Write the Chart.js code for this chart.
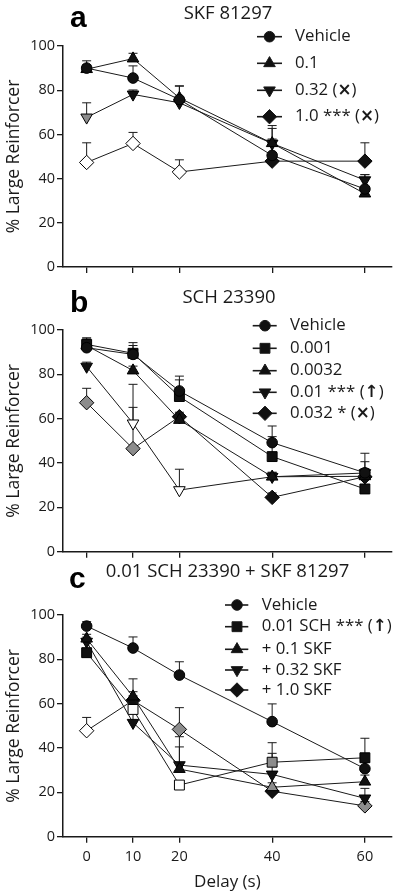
<!DOCTYPE html>
<html><head><meta charset="utf-8">
<script src="https://cdn.jsdelivr.net/npm/chart.js@4.4.1/dist/chart.umd.min.js"></script>
<style>
html,body{margin:0;padding:0;background:#fff;}
body{width:400px;height:894px;position:relative;overflow:hidden;}
canvas{position:absolute;left:0;}
</style></head><body>
<canvas id="ca" style="top:0px" width="400" height="283"></canvas>
<canvas id="cb" style="top:283px" width="400" height="280"></canvas>
<canvas id="cc" style="top:563px" width="400" height="331"></canvas>
<script>
// ---------- data ----------
const delays = [0, 10, 20, 40, 60];
const xTicks = [0, 10, 20, 40, 60];
const yTicks = [0, 20, 40, 60, 80, 100];

// significance codes per point: 'n' = filled black, 's' = open (white), 't' = grey
// Panel a: SKF 81297
const aTitle = 'SKF 81297';
const aLabels = ['Vehicle', '0.1', '0.32 (×)', '1.0 *** (×)'];
const aVehicle = [90, 85.5, 75.8, 50.5, 35.3];
const aVehicleSem = [3.3, 5.5, 6, 13.5, 6.5];
const aVehicleSig = ['n','n','n','n','n'];
const aSkf01 = [89.5, 94.3, 76.5, 56, 33.2];
const aSkf01Sem = [2, 2.4, 5.5, 6.7, 3];
const aSkf01Sig = ['n','n','n','n','n'];
const aSkf032 = [67.7, 78.1, 74.3, 55.9, 39.3];
const aSkf032Sem = [6.6, 2, 2, 2, 2.5];
const aSkf032Sig = ['t','n','n','n','n'];
const aSkf10 = [47.3, 55.9, 43, 47.9, 47.9];
const aSkf10Sem = [8.9, 5, 5.5, 2, 8.3];
const aSkf10Sig = ['s','s','s','n','n'];

// Panel b: SCH 23390
const bTitle = 'SCH 23390';
const bLabels = ['Vehicle', '0.001', '0.0032', '0.01 *** (↑)', '0.032 * (×)'];
const bVehicle = [92, 89, 72.5, 49.2, 35.6];
const bVehicleSem = [4, 5.3, 6.7, 7.5, 8.8];
const bVehicleSig = ['n','n','n','n','n'];
const bSch0001 = [93.5, 89.5, 70, 42.9, 28.3];
const bSch0001Sem = [3, 3.5, 7.5, 9, 2];
const bSch0001Sig = ['n','n','n','n','n'];
const bSch00032 = [93, 81.7, 59.4, 33.8, 34];
const bSch00032Sem = [2, 2, 2, 2, 6.6];
const bSch00032Sig = ['n','n','n','n','n'];
const bSch001 = [83.5, 57.9, 27.8, 33.8, 35.5];
const bSch001Sem = [2, 17.6, 9.4, 2, 2];
const bSch001Sig = ['n','s','s','n','n'];
const bSch0032 = [67.2, 46.5, 60.9, 24.5, 33.8];
const bSch0032Sem = [6.5, 18.6, 2, 2, 2];
const bSch0032Sig = ['t','t','n','n','n'];

// Panel c: 0.01 SCH 23390 + SKF 81297
const cTitle = '0.01 SCH 23390 + SKF 81297';
const cLabels = ['Vehicle', '0.01 SCH *** (↑)', '+ 0.1 SKF', '+ 0.32 SKF', '+ 1.0 SKF'];
const cVehicle = [95, 85.1, 72.9, 51.9, 30.7];
const cVehicleSem = [2, 5, 6, 8, 3];
const cVehicleSig = ['n','n','n','n','n'];
const cSch = [83, 57.4, 23.3, 33.6, 35.6];
const cSchSem = [2, 5, 2, 8.8, 8.8];
const cSchSig = ['n','s','s','t','n'];
const cSkf01 = [89.3, 63.2, 30.5, 22.3, 24.8];
const cSkf01Sem = [2, 8, 10, 2, 3];
const cSkf01Sig = ['n','n','n','t','n'];
const cSkf032 = [88, 51.4, 32.3, 28.1, 17.3];
const cSkf032Sem = [2, 14, 12.8, 9.5, 4.5];
const cSkf032Sig = ['n','n','n','n','n'];
const cSkf10 = [47.8, 61.5, 48.4, 20.5, 13.9];
const cSkf10Sem = [6, 2, 9.8, 2, 2];
const cSkf10Sig = ['s','n','t','n','t'];

// ---------- styles ----------
const FONT = "'Open Sans', 'DejaVu Sans', sans-serif";
const INK = '#1a1a1a';
const FILL = { n: '#111111', s: '#ffffff', t: '#8c8c8c' };
const SHAPES = {
  circle:  { pointStyle: 'circle',   rot: 0,   r: 5.3 },
  square:  { pointStyle: 'rect',     rot: 0,   r: 7 },
  tri:     { pointStyle: 'triangle', rot: 0,   r: 6.7 },
  invtri:  { pointStyle: 'triangle', rot: 180, r: 6.7 },
  diamond: { pointStyle: 'rectRot',  rot: 0,   r: 7.2 }
};

function markerPath(ctx, shape, x, y) {
  const s = SHAPES[shape], r = s.r;
  ctx.beginPath();
  if (s.pointStyle === 'circle') ctx.arc(x, y, r, 0, Math.PI * 2);
  else if (s.pointStyle === 'rect') { const h = r * Math.SQRT1_2; ctx.rect(x - h, y - h, 2 * h, 2 * h); }
  else if (s.pointStyle === 'rectRot') { ctx.moveTo(x - r, y); ctx.lineTo(x, y - r); ctx.lineTo(x + r, y); ctx.lineTo(x, y + r); ctx.closePath(); }
  else {
    const k = s.rot === 180 ? -1 : 1;
    ctx.moveTo(x, y - k * r);
    ctx.lineTo(x + 0.866 * r, y + k * 0.5 * r);
    ctx.lineTo(x - 0.866 * r, y + k * 0.5 * r);
    ctx.closePath();
  }
}

// error bars (upward SEM with cap)
const errorBars = {
  id: 'errorBars',
  beforeDatasetsDraw(chart) {
    const ctx = chart.ctx, ys = chart.scales.y;
    ctx.save();
    ctx.strokeStyle = INK; ctx.lineWidth = 1;
    chart.data.datasets.forEach((ds, di) => {
      const meta = chart.getDatasetMeta(di);
      meta.data.forEach((pt, i) => {
        const top = ys.getPixelForValue(ds.data[i].y + ds.sem[i]);
        ctx.beginPath();
        ctx.moveTo(pt.x, pt.y); ctx.lineTo(pt.x, top);
        ctx.moveTo(pt.x - 4.5, top); ctx.lineTo(pt.x + 4.5, top);
        ctx.stroke();
      });
    });
    ctx.restore();
  }
};

function drawRich(ctx, text, x, y, size) {
  // bold for symbol characters
  let cx = x;
  for (const ch of text) {
    const sym = (ch === '×' || ch === '↑');
    ctx.font = sym ? ('bold ' + size + "px 'DejaVu Sans', sans-serif") : (size + 'px ' + FONT);
    ctx.fillText(ch, cx, y);
    cx += ctx.measureText(ch).width;
  }
}

const panelText = {
  id: 'panelText',
  afterDraw(chart, args, o) {
    const ctx = chart.ctx;
    ctx.save();
    ctx.fillStyle = '#000';
    ctx.textBaseline = 'alphabetic';
    ctx.textAlign = 'left';
    ctx.font = "bold 30px 'Liberation Sans', Arial, sans-serif";
    ctx.fillText(o.letter, o.letterX, o.letterY);
    ctx.font = '18.5px ' + FONT;
    ctx.textAlign = 'center';
    ctx.fillStyle = INK;
    ctx.fillText(o.title, o.titleX, o.titleY);
    // legend
    ctx.textAlign = 'left';
    ctx.textBaseline = 'middle';
    const L = o.legend;
    chart.data.datasets.forEach((ds, i) => {
      const y = L.rows[i];
      ctx.strokeStyle = INK; ctx.lineWidth = 1.6;
      ctx.beginPath(); ctx.moveTo(L.x0, y); ctx.lineTo(L.x1, y); ctx.stroke();
      markerPath(ctx, ds.shape, L.mx, y);
      ctx.fillStyle = '#111'; ctx.fill();
      ctx.lineWidth = 1; ctx.stroke();
      ctx.fillStyle = INK;
      drawRich(ctx, ds.label, L.tx, y, 16.8);
    });
    ctx.restore();
  }
};

function makePanel(id, p) {
  const datasets = p.series.map(s => {
    const sh = SHAPES[s.shape];
    return {
      label: s.label,
      shape: s.shape,
      data: delays.map((d, i) => ({ x: d, y: s.values[i] })),
      sem: s.sem,
      borderColor: INK, borderWidth: 1,
      pointStyle: sh.pointStyle, pointRotation: sh.rot, pointRadius: sh.r, pointHoverRadius: sh.r,
      pointBackgroundColor: s.sig.map(c => FILL[c]),
      pointBorderColor: '#000', pointBorderWidth: 1,
      fill: false, tension: 0
    };
  });
  new Chart(document.getElementById(id), {
    type: 'line',
    data: { datasets },
    plugins: [errorBars, panelText],
    options: {
      responsive: false, animation: false, devicePixelRatio: 1,
      layout: { padding: { top: p.top, right: 2, left: 0, bottom: 0 } },
      plugins: {
        legend: { display: false }, tooltip: { enabled: false },
        panelText: p.text
      },
      scales: {
        x: {
          type: 'linear', min: -5.1, max: 65.8,
          afterBuildTicks: s => { s.ticks = xTicks.map(v => ({ value: v })); },
          afterFit: s => { s.height = p.xAxisH; },
          grid: { display: true, drawOnChartArea: false, drawTicks: true, tickLength: 6, color: INK, lineWidth: 1.3 },
          border: { display: true, color: INK, width: 1.5 },
          ticks: { display: p.showX, font: { family: FONT, size: 14.5 }, color: INK, padding: 5, autoSkip: false, maxRotation: 0 },
          title: { display: p.showX, text: 'Delay (s)', font: { family: FONT, size: 17 }, color: INK, padding: { top: 0, bottom: 2 } }
        },
        y: {
          min: 0, max: 100,
          afterBuildTicks: s => { s.ticks = yTicks.map(v => ({ value: v })); },
          afterFit: s => { s.width = 63; },
          grid: { display: true, drawOnChartArea: false, drawTicks: true, tickLength: 6, color: INK, lineWidth: 1.3 },
          border: { display: true, color: INK, width: 1.5 },
          ticks: { font: { family: FONT, size: 14.5 }, color: INK, padding: 2 },
          title: { display: true, text: '% Large Reinforcer', font: { family: FONT, size: 17.5 }, color: INK, padding: { top: 4, bottom: 0 } }
        }
      }
    }
  });
}

makePanel('ca', {
  top: 46, xAxisH: 16, showX: false,
  series: [
    { label: aLabels[0], shape: 'circle', values: aVehicle, sem: aVehicleSem, sig: aVehicleSig },
    { label: aLabels[1], shape: 'tri', values: aSkf01, sem: aSkf01Sem, sig: aSkf01Sig },
    { label: aLabels[2], shape: 'invtri', values: aSkf032, sem: aSkf032Sem, sig: aSkf032Sig },
    { label: aLabels[3], shape: 'diamond', values: aSkf10, sem: aSkf10Sem, sig: aSkf10Sig }
  ],
  text: { letter: 'a', letterX: 70, letterY: 27, title: aTitle, titleX: 228, titleY: 18.5,
    legend: { x0: 257, x1: 282, mx: 269.5, tx: 295, rows: [36.7, 63.3, 90.3, 116.7] } }
});
makePanel('cb', {
  top: 47, xAxisH: 11.3, showX: false,
  series: [
    { label: bLabels[0], shape: 'circle', values: bVehicle, sem: bVehicleSem, sig: bVehicleSig },
    { label: bLabels[1], shape: 'square', values: bSch0001, sem: bSch0001Sem, sig: bSch0001Sig },
    { label: bLabels[2], shape: 'tri', values: bSch00032, sem: bSch00032Sem, sig: bSch00032Sig },
    { label: bLabels[3], shape: 'invtri', values: bSch001, sem: bSch001Sem, sig: bSch001Sig },
    { label: bLabels[4], shape: 'diamond', values: bSch0032, sem: bSch0032Sem, sig: bSch0032Sig }
  ],
  text: { letter: 'b', letterX: 70, letterY: 28.7, title: bTitle, titleX: 229, titleY: 19.7,
    legend: { x0: 252.7, x1: 276.7, mx: 265, tx: 290, rows: [42.7, 65.3, 87.7, 109.3, 130.3] } }
});
makePanel('cc', {
  top: 52, xAxisH: 57.3, showX: true,
  series: [
    { label: cLabels[0], shape: 'circle', values: cVehicle, sem: cVehicleSem, sig: cVehicleSig },
    { label: cLabels[1], shape: 'square', values: cSch, sem: cSchSem, sig: cSchSig },
    { label: cLabels[2], shape: 'tri', values: cSkf01, sem: cSkf01Sem, sig: cSkf01Sig },
    { label: cLabels[3], shape: 'invtri', values: cSkf032, sem: cSkf032Sem, sig: cSkf032Sig },
    { label: cLabels[4], shape: 'diamond', values: cSkf10, sem: cSkf10Sem, sig: cSkf10Sig }
  ],
  text: { letter: 'c', letterX: 69, letterY: 25.3, title: cTitle, titleX: 227.5, titleY: 14.3,
    legend: { x0: 225, x1: 248.3, mx: 237, tx: 261.7, rows: [42, 63.7, 86.3, 107, 127] } }
});
</script>
</body></html>
